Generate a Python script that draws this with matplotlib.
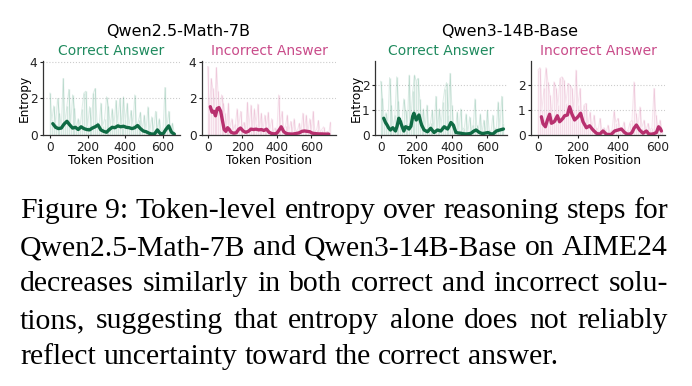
import numpy as np
import matplotlib
matplotlib.use("Agg")
import matplotlib.pyplot as plt

# raw token entropy, sampled every 10 tokens
raw_q25_correct = [2.3, 0.8, 1.6, 0.6, 2.0, 1.2, 0.5, 3.1, 0.7, 1.6, 2.5, 0.6, 2.2, 1.5, 0.4, 0.9, 0.5,
                   1.45, 2.3, 2.4, 0.5, 1.55, 0.6, 2.3, 2.55, 0.7, 0.4, 1.75, 0.5, 0.9, 2.1, 1.6, 0.5,
                   1.45, 0.6, 1.9, 0.7, 2.0, 0.5, 2.1, 0.8, 1.75, 0.5, 1.35, 0.6, 2.2, 0.5, 0.8, 1.25,
                   0.3, 1.1, 0.3, 1.55, 0.2, 1.0, 0.2, 1.3, 0.3, 0.9, 0.2, 0.3, 2.6, 0.4, 1.3, 0.2,
                   0.65, 0.1]
raw_q25_wrong = [3.75, 1.2, 3.1, 2.55, 1.5, 3.7, 2.4, 1.3, 2.2, 1.75, 1.2, 0.5, 1.75, 0.4, 0.9, 0.3,
                 0.6, 1.45, 0.5, 1.3, 0.4, 0.7, 0.3, 1.8, 0.5, 1.65, 0.4, 1.45, 0.6, 1.7, 0.4, 1.2,
                 0.3, 1.1, 0.5, 1.25, 0.3, 0.9, 0.2, 0.4, 0.2, 2.2, 0.6, 1.3, 0.3, 0.5, 1.1, 0.2,
                 0.75, 0.2, 0.9, 0.2, 0.3, 0.65, 0.2, 1.2, 0.3, 1.1, 0.2, 0.9, 0.3, 1.3, 0.2, 0.3,
                 0.8, 0.2, 0.3, 0.45, 0.1, 0.2, 0.1, 0.7]
raw_q3_correct = [2.15, 1.5, 0.6, 0.9, 0.4, 2.3, 1.2, 0.3, 0.8, 2.33, 1.35, 0.4, 0.6, 1.45, 1.0, 0.5,
                  2.4, 0.7, 1.75, 2.4, 2.15, 2.27, 1.45, 0.5, 1.05, 0.3, 1.2, 0.3, 0.5, 1.0, 0.2,
                  1.55, 0.3, 1.05, 0.4, 1.33, 1.85, 2.1, 0.8, 2.47, 1.2, 0.4, 0.2, 0.93, 0.2, 1.05,
                  0.2, 0.3, 0.85, 0.1, 0.73, 0.2, 0.4, 1.45, 0.4, 0.2, 0.85, 0.1, 0.6, 0.1, 1.0, 0.2,
                  0.1, 0.8, 0.2, 0.3, 1.33, 0.3, 1.55, 0.5]
raw_q3_wrong = [2.6, 2.7, 1.0, 1.87, 2.7, 2.13, 1.6, 0.8, 2.13, 1.9, 1.2, 2.27, 2.33, 2.2, 1.3, 2.07,
                2.0, 1.87, 1.0, 2.6, 1.2, 1.87, 0.6, 1.2, 1.27, 0.4, 0.93, 0.3, 0.8, 0.3, 0.2, 0.67,
                0.2, 0.3, 0.1, 0.4, 0.1, 0.2, 0.96, 0.5, 0.67, 0.3, 0.2, 0.53, 0.1, 0.2, 0.5, 0.6,
                2.13, 0.87, 0.4, 1.13, 0.3, 0.6, 0.2, 0.47, 0.2, 0.3, 1.87, 0.8, 0.3, 0.6, 0.2]

# smoothed entropy (token position, value)
sm_q25_correct_x = [15, 30, 45, 60, 75, 90, 105, 120, 135, 150, 165, 180, 195, 210, 225, 240, 255, 270,
                    285, 300, 315, 330, 345, 360, 375, 390, 405, 420, 435, 450, 465, 480, 495, 510,
                    525, 540, 555, 570, 585, 600, 615, 630, 645, 660]
sm_q25_correct_y = [0.62, 0.42, 0.35, 0.38, 0.6, 0.75, 0.55, 0.38, 0.42, 0.3, 0.45, 0.35, 0.3, 0.28,
                    0.38, 0.45, 0.55, 0.28, 0.2, 0.15, 0.3, 0.42, 0.4, 0.5, 0.45, 0.48, 0.42, 0.4,
                    0.35, 0.4, 0.52, 0.35, 0.22, 0.18, 0.1, 0.05, 0.06, 0.28, 0.08, 0.06, 0.3, 0.5,
                    0.15, 0.05]
sm_q25_wrong_x = [15, 25, 35, 45, 55, 65, 75, 85, 95, 105, 115, 125, 135, 150, 165, 180, 190, 205, 220,
                  235, 250, 265, 280, 295, 310, 325, 340, 355, 370, 385, 400, 415, 425, 440, 455, 470,
                  490, 510, 530, 545, 560, 575, 590, 605, 620, 640, 660, 680, 700]
sm_q25_wrong_y = [1.55, 1.25, 1.3, 1.05, 1.45, 1.5, 1.3, 0.8, 0.3, 0.2, 0.4, 0.3, 0.15, 0.1, 0.12,
                  0.32, 0.38, 0.22, 0.15, 0.2, 0.32, 0.3, 0.32, 0.28, 0.3, 0.25, 0.32, 0.15, 0.08,
                  0.06, 0.1, 0.3, 0.45, 0.18, 0.08, 0.06, 0.05, 0.08, 0.12, 0.2, 0.22, 0.2, 0.18,
                  0.1, 0.08, 0.06, 0.06, 0.05, 0.05]
sm_q3_correct_x = [17, 27, 36, 45, 55, 68, 83, 92, 102, 110, 117, 130, 140, 150, 159, 170, 180, 187,
                   200, 215, 222, 230, 244, 263, 281, 300, 319, 338, 357, 376, 385, 395, 408, 423,
                   437, 451, 465, 480, 494, 508, 522, 536, 555, 570, 584, 603, 617, 631, 650, 669, 690]
sm_q3_correct_y = [0.67, 0.5, 0.4, 0.28, 0.2, 0.29, 0.16, 0.35, 0.67, 0.55, 0.4, 0.16, 0.33, 0.3,
                   0.24, 0.35, 0.75, 0.87, 0.6, 0.8, 0.6, 0.4, 0.2, 0.13, 0.27, 0.1, 0.2, 0.16, 0.33,
                   0.24, 0.35, 0.5, 0.4, 0.1, 0.08, 0.07, 0.05, 0.04, 0.05, 0.07, 0.15, 0.2, 0.1,
                   0.06, 0.07, 0.1, 0.05, 0.04, 0.16, 0.2, 0.24]
sm_q3_wrong_x = [17, 25, 37, 47, 58, 67, 75, 83, 97, 108, 117, 125, 133, 147, 158, 170, 183, 200, 213,
                 225, 242, 258, 275, 292, 308, 325, 342, 355, 367, 383, 400, 417, 433, 445, 458, 470,
                 480, 492, 508, 525, 542, 553, 563, 578, 592, 603, 612, 617]
sm_q3_wrong_y = [0.73, 0.45, 0.33, 0.6, 0.83, 0.47, 0.5, 0.55, 0.77, 0.53, 0.6, 0.67, 0.77, 0.8, 1.13,
                 0.83, 0.6, 0.73, 0.87, 0.53, 0.29, 0.37, 0.2, 0.07, 0.03, 0.16, 0.03, 0.02, 0.03,
                 0.16, 0.2, 0.24, 0.1, 0.04, 0.03, 0.1, 0.27, 0.4, 0.2, 0.07, 0.16, 0.05, 0.03, 0.05,
                 0.1, 0.33, 0.25, 0.16]

models = ["Qwen2.5-Math-7B", "Qwen3-14B-Base"]
panel_titles = ["Correct Answer", "Incorrect Answer"]

GREEN, GREEN_D = "#1f8a5e", "#0f6b44"
PINK, PINK_D = "#c94b8a", "#b8306f"

W, H = 692, 386
fig = plt.figure(figsize=(W / 100, H / 100), dpi=100)

# axes boxes in pixels: left, right
boxes = [(43, 180), (202, 336), (375, 507), (531, 665)]
panels = [
    (raw_q25_correct, sm_q25_correct_x, sm_q25_correct_y, 0, (-37, 690), 4.05, [0, 2, 4]),
    (raw_q25_wrong, sm_q25_wrong_x, sm_q25_wrong_y, 1, (-33, 742), 4.05, [0, 2, 4]),
    (raw_q3_correct, sm_q3_correct_x, sm_q3_correct_y, 0, (-32, 710), 2.96, [0, 1, 2]),
    (raw_q3_wrong, sm_q3_wrong_x, sm_q3_wrong_y, 1, (-35, 635), 2.96, [0, 1, 2]),
]

for i, (raw, sx, sy, kind, xl, ytop, yt) in enumerate(panels):
    l, r = boxes[i]
    ax = fig.add_axes([l / W, (H - 135) / H, (r - l) / W, 74 / H])
    light, dark = (GREEN, GREEN_D) if kind == 0 else (PINK, PINK_D)
    rx = np.arange(len(raw)) * 10
    ax.vlines(rx, 0, raw, color=light, alpha=0.18, lw=1.0)
    ax.plot(rx, raw, color=light, alpha=0.15, lw=0.7)
    ax.plot(sx, sy, color=dark, lw=2.4, solid_capstyle="round")
    ax.set_xlim(*xl)
    ax.set_ylim(0, ytop)
    ax.set_yticks(yt)
    ax.set_xticks([0, 200, 400, 600])
    ax.grid(axis="y", color="#cccccc", ls=":", lw=0.8)
    ax.set_axisbelow(True)
    for s in ["top", "right"]:
        ax.spines[s].set_visible(False)
    for s in ["left", "bottom"]:
        ax.spines[s].set_color("#333333")
        ax.spines[s].set_linewidth(0.9)
    ax.tick_params(labelsize=8.7, length=2.5, width=0.8, pad=1.5, colors="#222222")
    ax.set_xlabel("Token Position", fontsize=8.7, labelpad=0.5)
    if kind == 0:
        ax.set_ylabel("Entropy", fontsize=8.7, labelpad=-0.5)
    ax.set_title(panel_titles[kind], color=light, fontsize=10, pad=4)

fig.text(178 / W, 1 - 31 / H, models[0], ha="center", va="center", fontsize=11.5)
fig.text(510 / W, 1 - 31 / H, models[1], ha="center", va="center", fontsize=11.5)

caption = [
    "Figure 9: Token-level entropy over reasoning steps for",
    "Qwen2.5-Math-7B and Qwen3-14B-Base on AIME24",
    "decreases similarly in both correct and incorrect solu-",
    "tions, suggesting that entropy alone does not reliably",
    "reflect uncertainty toward the correct answer.",
]
baselines = [218, 255, 291, 328, 364]
x0, x1 = 20, 668
renderer = fig.canvas.get_renderer()

# pick a font size so the widest line fits the column with normal spacing
probe = fig.text(0, 0, "", fontsize=20, family="Liberation Serif")
widest = 0
for line in caption:
    probe.set_text(line)
    widest = max(widest, probe.get_window_extent(renderer).width)
probe.remove()
fs = 20 * (x1 - x0) / widest

for j, line in enumerate(caption):
    words = line.split(" ")
    texts = [fig.text(0, 1 - baselines[j] / H, w, fontsize=fs, family="Liberation Serif",
                      va="baseline", ha="left") for w in words]
    widths = [t.get_window_extent(renderer).width for t in texts]
    if j < len(caption) - 1:
        gap = (x1 - x0 - sum(widths)) / (len(words) - 1)
    else:
        gap = 0.25 * fs * 100 / 72
    x = x0
    for t, w in zip(texts, widths):
        t.set_x(x / W)
        x += w + gap

fig.savefig("out.png", dpi=100)
